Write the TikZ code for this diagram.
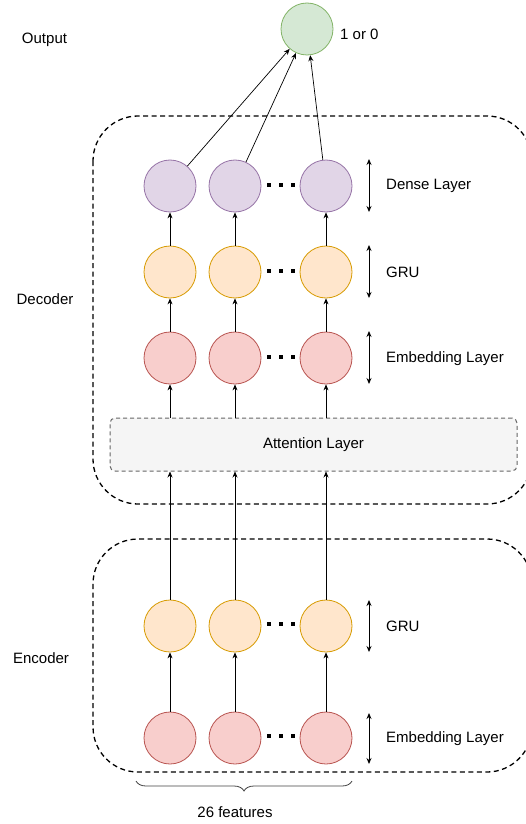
\documentclass[tikz,border=0pt]{standalone}
\usepackage{fontspec}
\setmainfont{Liberation Sans}
\usetikzlibrary{arrows.meta,decorations.pathreplacing}
\definecolor{purpF}{HTML}{E1D5E7}\definecolor{purpS}{HTML}{9673A6}
\definecolor{orF}{HTML}{FFE6CC}\definecolor{orS}{HTML}{D79B00}
\definecolor{redF}{HTML}{F8CECC}\definecolor{redS}{HTML}{B85450}
\definecolor{grF}{HTML}{D5E8D4}\definecolor{grS}{HTML}{82B366}
\definecolor{attF}{HTML}{F5F5F5}\definecolor{attS}{HTML}{666666}
\tikzset{
  unit/.style={circle,minimum size=52pt,inner sep=0pt,line width=0.8pt},
  dense/.style={unit,fill=purpF,draw=purpS},
  gru/.style={unit,fill=orF,draw=orS},
  emb/.style={unit,fill=redF,draw=redS},
  outc/.style={unit,fill=grF,draw=grS},
  conn/.style={line width=0.7pt,-{Stealth[length=6pt,width=5pt]}},
  dbl/.style={line width=0.9pt,{Stealth[length=6pt,width=5pt]}-{Stealth[length=6pt,width=5pt]}},
  lbl/.style={font=\fontsize{15}{18}\selectfont,inner sep=0pt},
  grp/.style={draw,line width=1.3pt,dash pattern=on 5pt off 3.5pt,rounded corners=45pt},
  dotsq/.style={fill=black},
}
\begin{document}
\begin{tikzpicture}[x=1pt,y=-1pt]
\useasboundingbox (0,0) rectangle (526,824);
% group boxes
\draw[grp] (93,116) rectangle (532,504);
\draw[grp] (93,539) rectangle (532,772);
% attention layer
\node[draw=attS,fill=attF,line width=1pt,dash pattern=on 4pt off 3pt,rounded corners=5pt,
      minimum width=407pt,minimum height=53pt,inner sep=0pt,
      font=\fontsize{15}{18}\selectfont] (att) at (313.5,444.5) {Attention Layer};
% output
\node[outc] (out) at (307,29) {};
\node[lbl,anchor=west] (outv) at (340,34) {1 or 0};
\node[lbl] (outl) at (44.5,40) {Output};
\node[lbl] (decl) at (45,299) {Decoder};
\node[lbl] (encl) at (41,658) {Encoder};
% rows
\foreach \i/\x in {1/170,2/235,3/326}{
  \node[dense] (d\i) at (\x,186) {};
  \node[gru] (g\i) at (\x,272) {};
  \node[emb] (e\i) at (\x,358) {};
  \node[gru] (eg\i) at (\x,626) {};
  \node[emb] (ee\i) at (\x,738) {};
}
% dots
\foreach \y in {185,271,357,624,736}{
  \foreach \x in {269,281,293}{
    \fill[dotsq] (\x-2.2,\y-2.2) rectangle (\x+2.2,\y+2.2);
  }
}
% connectors
\foreach \i in {1,2,3}{
  \draw[conn] (d\i) -- (out);
  \draw[conn] (g\i) -- (d\i);
  \draw[conn] (e\i) -- (g\i);
  \draw[conn] (ee\i) -- (eg\i);
  \draw[conn] (att.north -| e\i) -- (e\i);
  \draw[conn] (eg\i) -- (att.south -| eg\i);
}
% double arrows and layer labels
\coordinate (a1t) at (369,159); \coordinate (a1b) at (369,212);
\coordinate (a2t) at (369,245); \coordinate (a2b) at (369,298);
\coordinate (a3t) at (369,331); \coordinate (a3b) at (369,384);
\coordinate (a4t) at (369,600); \coordinate (a4b) at (369,652);
\coordinate (a5t) at (369,713); \coordinate (a5b) at (369,764);
\foreach \k in {1,...,5}{ \draw[dbl] (a\k t) -- (a\k b); }
\node[lbl,anchor=west] (l1) at (386,186) {Dense Layer};
\node[lbl,anchor=west] (l2) at (386,272) {GRU};
\node[lbl,anchor=west] (l3) at (386,359) {Embedding Layer};
\node[lbl,anchor=west] (l4) at (386,626) {GRU};
\node[lbl,anchor=west] (l5) at (386,739) {Embedding Layer};
% brace
\coordinate (bl) at (136,781); \coordinate (br) at (352,781);
\draw[line width=0.8pt,black!75,decorate,decoration={brace,amplitude=10pt}] (br) -- (bl);
\node[lbl] (feat) at (235,812) {26 features};
\end{tikzpicture}
\end{document}
